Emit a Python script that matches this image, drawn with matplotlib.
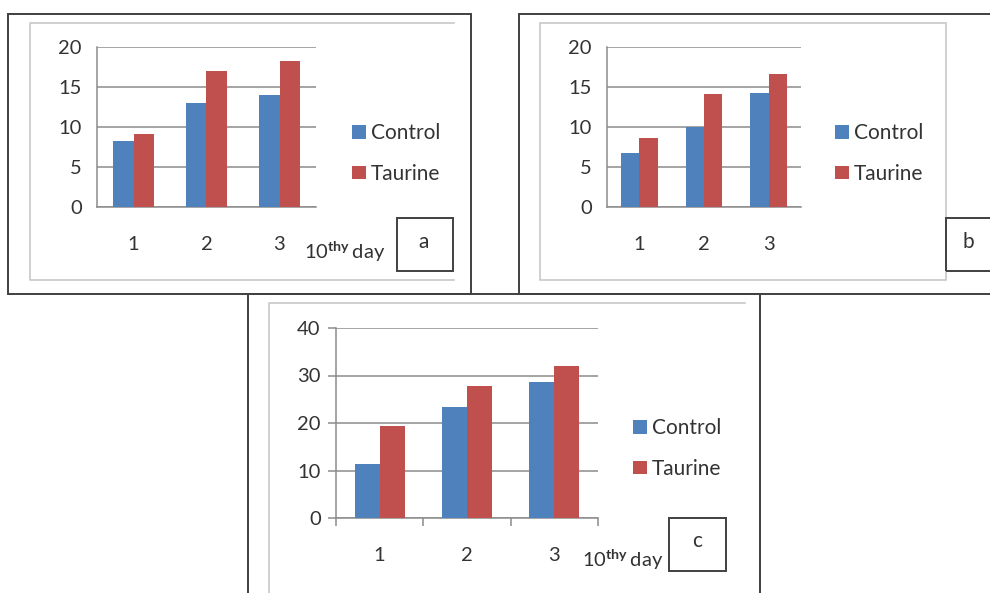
import numpy as np
import matplotlib
matplotlib.use("Agg")
import matplotlib.pyplot as plt
from matplotlib.patches import Rectangle
from matplotlib.lines import Line2D

plt.rcParams['font.family'] = ['Lato', 'DejaVu Sans']
plt.rcParams['mathtext.fontset'] = 'custom'
plt.rcParams['mathtext.rm'] = 'Lato'
plt.rcParams['mathtext.bf'] = 'Lato:bold'

# data
days = ['1', '2', '3']
series = ['Control', 'Taurine']
control_a = [8.2, 13.0, 14.0]
taurine_a = [9.1, 17.0, 18.2]
control_b = [6.8, 10.0, 14.3]
taurine_b = [8.6, 14.1, 16.6]
control_c = [11.3, 23.4, 28.6]
taurine_c = [19.4, 27.8, 31.9]

blue = '#4f81bd'
red = '#c0504d'
txt = '#333333'
W, H = 990, 593

fig = plt.figure(figsize=(9.9, 5.93), dpi=100)


def fx(x):
    return x / W


def fy(y):
    return 1 - y / H


def box(x0, y0, x1, y1, color='#404040', lw=1.4):
    fig.add_artist(Rectangle((fx(x0), fy(y1)), fx(x1) - fx(x0), fy(y0) - fy(y1),
                             fill=False, edgecolor=color, lw=lw,
                             transform=fig.transFigure, clip_on=False))


def line(xs, ys, color='#c8c8c8', lw=1.2):
    fig.add_artist(Line2D([fx(x) for x in xs], [fy(y) for y in ys], color=color,
                          lw=lw, transform=fig.transFigure))


def panel(rect, ctrl, taur, ymax, step, ticks_out, leg_xy):
    l, t, r, b = rect
    ax = fig.add_axes([fx(l), fy(b), (r - l) / W, (b - t) / H])
    x = np.arange(1, len(days) + 1)
    w = 0.286
    h1 = ax.bar(x - w / 2, ctrl, w, color=blue, label=series[0], zorder=3)
    h2 = ax.bar(x + w / 2, taur, w, color=red, label=series[1], zorder=3)
    ax.set_xlim(0.5, len(days) + 0.5)
    ax.set_ylim(0, ymax)
    ax.set_yticks(np.arange(0, ymax + 1, step))
    ax.set_xticks(x)
    ax.set_xticklabels(days)
    ax.yaxis.grid(True, color='#8c8c8c', lw=1.1)
    ax.set_axisbelow(True)
    for s in ['top', 'right']:
        ax.spines[s].set_visible(False)
    for s in ['left', 'bottom']:
        ax.spines[s].set_color('#8c8c8c')
        ax.spines[s].set_linewidth(1.1)
    if ticks_out:
        ax.tick_params(axis='y', length=6, color='#8c8c8c', width=1.1, pad=5,
                       labelsize=14.5, labelcolor=txt)
        ax.set_xticks(np.arange(0.5, len(days) + 1, 1), minor=True)
        ax.tick_params(axis='x', which='minor', length=6, color='#8c8c8c', width=1.1)
        ax.tick_params(axis='x', which='major', length=0, pad=21,
                       labelsize=14.5, labelcolor=txt)
    else:
        ax.tick_params(axis='y', length=0, pad=11, labelsize=14.5, labelcolor=txt)
        ax.tick_params(axis='x', length=0, pad=21, labelsize=14.5, labelcolor=txt)
    fig.legend([h1, h2], series, loc='upper left',
               bbox_to_anchor=(fx(leg_xy[0]), fy(leg_xy[1])),
               frameon=False, fontsize=15, labelcolor=txt, borderpad=0,
               borderaxespad=0, handlelength=0.65, handleheight=0.65,
               handletextpad=0.25, labelspacing=1.0)
    return ax


# panel a
box(8, 14, 471, 294)
line([454, 30, 30, 454], [23, 23, 280, 280])
panel((97, 47, 316, 207), control_a, taurine_a, 20, 5, False, (352, 123))
fig.text(fx(304), fy(259), r'10$^{\mathbf{thy}}\,$day', fontsize=14.5, color=txt,
         ha='left', va='baseline')
box(397, 218, 453, 271)
fig.text(fx(424), fy(242), 'a', fontsize=15, color=txt, ha='center', va='center')

# panel b
box(519, 14, 1000, 294)
box(540, 23, 946, 280, color='#c8c8c8', lw=1.2)
panel((607, 47, 801, 207), control_b, taurine_b, 20, 5, False, (835, 123))
box(946, 218, 1000, 271)
fig.text(fx(968), fy(242), 'b', fontsize=15, color=txt, ha='center', va='center')

# panel c
box(248, 294, 760, 610)
line([745, 269, 269], [303, 303, 600])
panel((336, 328, 598, 518), control_c, taurine_c, 40, 10, True, (633, 418))
fig.text(fx(582), fy(567), r'10$^{\mathbf{thy}}\,$day', fontsize=14.5, color=txt,
         ha='left', va='baseline')
box(669, 518, 726, 571)
fig.text(fx(697), fy(541), 'c', fontsize=15, color=txt, ha='center', va='center')

fig.savefig('out.png', dpi=100, facecolor='white')
